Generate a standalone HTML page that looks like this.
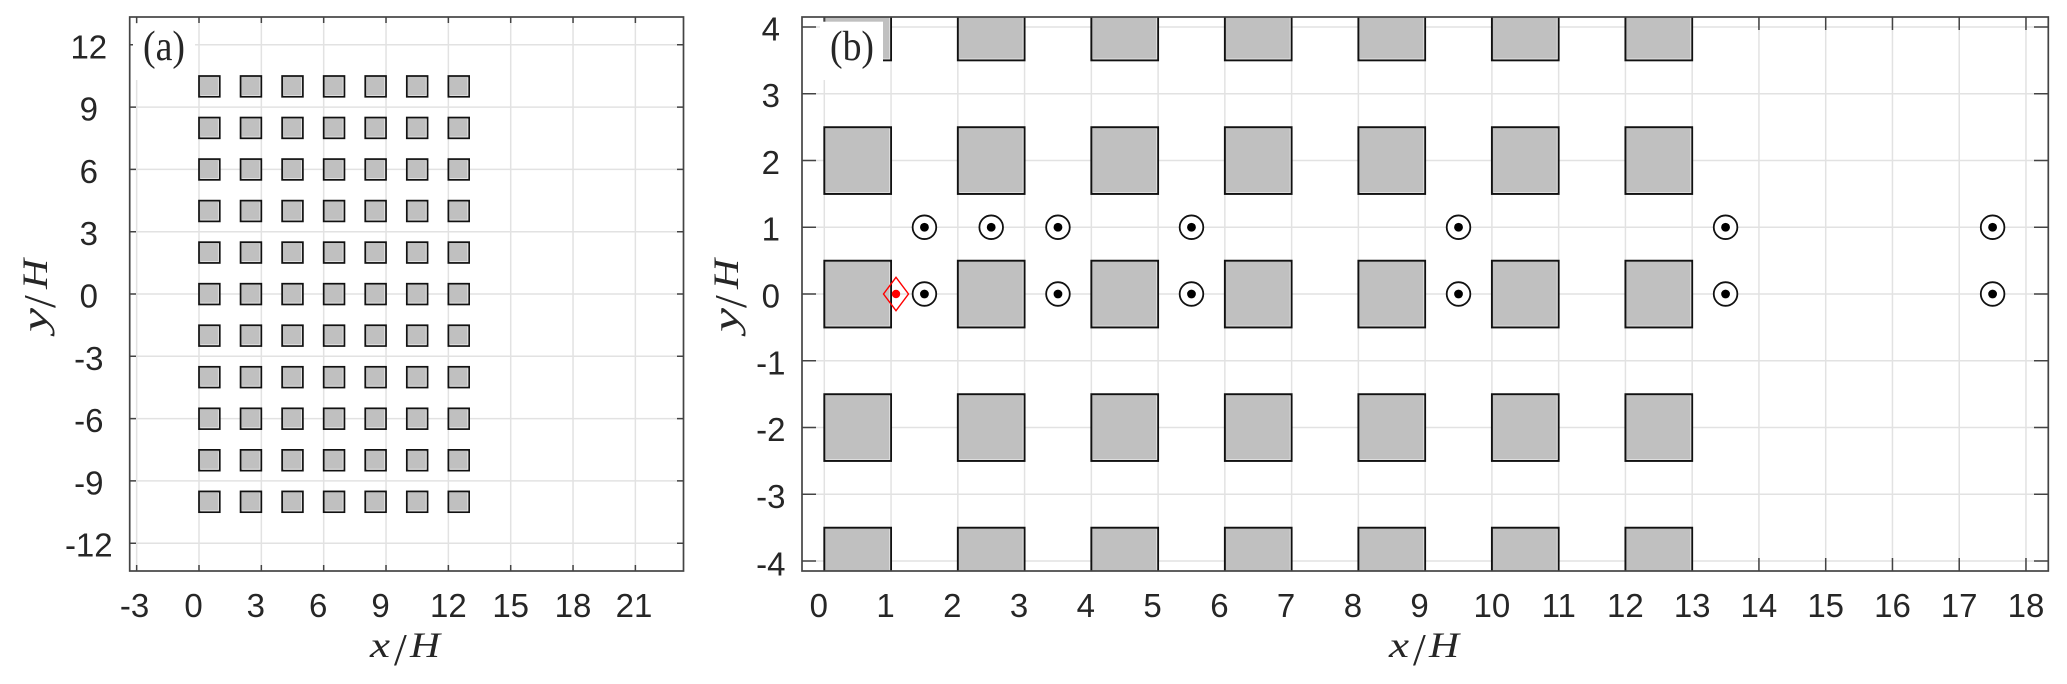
<!DOCTYPE html>
<html><head><meta charset="utf-8"><style>
html,body{margin:0;padding:0;background:#fff}
svg{display:block;filter:blur(.35px)}
.t{font-family:"Liberation Sans",Arial,sans-serif;font-size:33px;fill:#262626;text-anchor:middle}
.s{font-family:"Liberation Serif",serif;fill:#262626}
.i{font-family:"Liberation Serif",serif;font-style:italic;font-size:36px;fill:#262626}
</style></head><body>
<svg xmlns="http://www.w3.org/2000/svg" width="2067" height="684" viewBox="0 0 2067 684">
<defs>
<clipPath id="cb"><rect x="802" y="16.7" width="1246.3" height="554.3"/></clipPath>
<g id="sa"><rect x="199" y="76" width="20.78" height="20.78" fill="#c0c0c0" stroke="#111" stroke-width="1.7"/><path d="M218.4 77.6V95.4H200.6" fill="none" stroke="#e4e4e4" stroke-width=".9"/></g>
<g id="ra"><use href="#sa"/><use href="#sa" x="41.56"/><use href="#sa" x="83.12"/><use href="#sa" x="124.68"/><use href="#sa" x="166.24"/><use href="#sa" x="207.8"/><use href="#sa" x="249.36"/></g>
<g id="sb"><rect x="824.3" y="0" width="66.76" height="66.76" fill="#c0c0c0" stroke="#111" stroke-width="1.9"/><path d="M889.6 1.5V65.3H826" fill="none" stroke="#dedede" stroke-width="1"/></g>
<g id="rb"><use href="#sb"/><use href="#sb" x="133.52"/><use href="#sb" x="267.04"/><use href="#sb" x="400.56"/><use href="#sb" x="534.08"/><use href="#sb" x="667.6"/><use href="#sb" x="801.12"/></g>
<g id="c"><circle r="11.8" fill="#fff" stroke="#111" stroke-width="1.8"/><circle r="4.4" fill="#000"/></g>
</defs>
<rect width="2067" height="684" fill="#fff"/>

<!-- panel a grid -->
<path fill="none" stroke="#e2e2e2" stroke-width="1.5" d="M136.66 17V571M199 17V571M261.34 17V571M323.68 17V571M386.02 17V571M448.36 17V571M510.7 17V571M573.04 17V571M635.38 17V571M130 44.76H683M130 107.07H683M130 169.38H683M130 231.69H683M130 294H683M130 356.31H683M130 418.62H683M130 480.93H683M130 543.24H683"/>
<!-- panel a squares -->
<use href="#ra"/><use href="#ra" y="41.54"/><use href="#ra" y="83.08"/><use href="#ra" y="124.62"/><use href="#ra" y="166.16"/><use href="#ra" y="207.7"/><use href="#ra" y="249.24"/><use href="#ra" y="290.78"/><use href="#ra" y="332.32"/><use href="#ra" y="373.86"/><use href="#ra" y="415.4"/>
<!-- panel a ticks/axes -->
<path fill="none" stroke="#444" stroke-width="1.5" d="M136.66 17v6M199 17v6M261.34 17v6M323.68 17v6M386.02 17v6M448.36 17v6M510.7 17v6M573.04 17v6M635.38 17v6M136.66 571v-6M199 571v-6M261.34 571v-6M323.68 571v-6M386.02 571v-6M448.36 571v-6M510.7 571v-6M573.04 571v-6M635.38 571v-6M130 44.76h6M130 107.07h6M130 169.38h6M130 231.69h6M130 294h6M130 356.31h6M130 418.62h6M130 480.93h6M130 543.24h6M683 44.76h-6M683 107.07h-6M683 169.38h-6M683 231.69h-6M683 294h-6M683 356.31h-6M683 418.62h-6M683 480.93h-6M683 543.24h-6"/>
<rect x="129.7" y="17" width="553.8" height="554" fill="none" stroke="#444" stroke-width="1.7"/>
<rect x="133" y="24" width="62" height="56" fill="#fff"/>
<text class="s" x="143" y="60" font-size="42" textLength="42" lengthAdjust="spacingAndGlyphs">(a)</text>

<!-- panel a labels -->
<text class="t" x="134.5" y="617">-3</text><text class="t" x="193.5" y="617">0</text><text class="t" x="255.8" y="617">3</text><text class="t" x="318.2" y="617">6</text><text class="t" x="380.5" y="617">9</text><text class="t" x="448.4" y="617">12</text><text class="t" x="510.7" y="617">15</text><text class="t" x="573" y="617">18</text><text class="t" x="634" y="617">21</text>
<text class="t" x="88.8" y="58.3">12</text><text class="t" x="88.8" y="120.6">9</text><text class="t" x="88.8" y="182.9">6</text><text class="t" x="88.8" y="245.2">3</text><text class="t" x="88.8" y="307.5">0</text><text class="t" x="88.8" y="369.8">-3</text><text class="t" x="88.8" y="432.1">-6</text><text class="t" x="88.8" y="494.4">-9</text><text class="t" x="88.8" y="556.7">-12</text>
<text class="i" x="370" y="657" textLength="20" lengthAdjust="spacingAndGlyphs">x</text><text class="s" x="394" y="665" font-size="46">/</text><text class="i" x="410" y="657" textLength="30" lengthAdjust="spacingAndGlyphs">H</text>
<g transform="translate(47,332) rotate(-90)"><text class="i" x="0" y="0" textLength="24" lengthAdjust="spacingAndGlyphs">y</text><text class="s" x="24" y="8" font-size="46">/</text><text class="i" x="43" y="0" textLength="30" lengthAdjust="spacingAndGlyphs">H</text></g>

<!-- panel b grid -->
<path fill="none" stroke="#e2e2e2" stroke-width="1.5" d="M824.3 17V571M891.06 17V571M957.82 17V571M1024.58 17V571M1091.34 17V571M1158.1 17V571M1224.86 17V571M1291.62 17V571M1358.38 17V571M1425.14 17V571M1491.9 17V571M1558.66 17V571M1625.42 17V571M1692.18 17V571M1758.94 17V571M1825.7 17V571M1892.46 17V571M1959.22 17V571M2025.98 17V571M802 26.96H2048M802 93.72H2048M802 160.48H2048M802 227.24H2048M802 294H2048M802 360.76H2048M802 427.52H2048M802 494.28H2048M802 561.04H2048"/>
<!-- panel b squares -->
<g clip-path="url(#cb)"><use href="#rb" y="-6.4"/><use href="#rb" y="127.2"/><use href="#rb" y="260.7"/><use href="#rb" y="394.2"/><use href="#rb" y="527.7"/></g>
<!-- panel b ticks/axes -->
<path fill="none" stroke="#444" stroke-width="1.5" d="M824.3 17v13M1758.94 17v13M1825.7 17v13M1892.46 17v13M1959.22 17v13M2025.98 17v13M1758.94 571v-13M1825.7 571v-13M1892.46 571v-13M1959.22 571v-13M2025.98 571v-13M802 26.96h14M802 93.72h14M802 160.48h14M802 227.24h14M802 294h14M802 360.76h14M802 427.52h14M802 494.28h14M802 561.04h14M2048 26.96h-14M2048 93.72h-14M2048 160.48h-14M2048 227.24h-14M2048 294h-14M2048 360.76h-14M2048 427.52h-14M2048 494.28h-14M2048 561.04h-14"/>
<rect x="802" y="17" width="1246.3" height="554" fill="none" stroke="#444" stroke-width="1.7"/>
<rect x="820" y="21.7" width="63" height="58.3" fill="#fff"/>
<text class="s" x="830" y="60" font-size="42" textLength="44" lengthAdjust="spacingAndGlyphs">(b)</text>
<!-- markers -->
<use href="#c" x="924.44" y="227.24"/><use href="#c" x="991.2" y="227.24"/><use href="#c" x="1057.96" y="227.24"/><use href="#c" x="1191.48" y="227.24"/><use href="#c" x="1458.52" y="227.24"/><use href="#c" x="1725.56" y="227.24"/><use href="#c" x="1992.6" y="227.24"/>
<use href="#c" x="924.44" y="294"/><use href="#c" x="1057.96" y="294"/><use href="#c" x="1191.48" y="294"/><use href="#c" x="1458.52" y="294"/><use href="#c" x="1725.56" y="294"/><use href="#c" x="1992.6" y="294"/>
<path d="M896 277.3L908.5 294L896 310.7L883.5 294Z" fill="none" stroke="#f00" stroke-width="1.4"/><circle cx="896" cy="294" r="4.2" fill="#f00"/>

<!-- panel b labels -->
<text class="t" x="818.8" y="617">0</text><text class="t" x="885.5" y="617">1</text><text class="t" x="952.3" y="617">2</text><text class="t" x="1019" y="617">3</text><text class="t" x="1085.8" y="617">4</text><text class="t" x="1152.6" y="617">5</text><text class="t" x="1219.4" y="617">6</text><text class="t" x="1286.1" y="617">7</text><text class="t" x="1352.9" y="617">8</text><text class="t" x="1419.6" y="617">9</text><text class="t" x="1491.9" y="617">10</text><text class="t" x="1558.7" y="617">11</text><text class="t" x="1625.4" y="617">12</text><text class="t" x="1692.2" y="617">13</text><text class="t" x="1758.9" y="617">14</text><text class="t" x="1825.7" y="617">15</text><text class="t" x="1892.5" y="617">16</text><text class="t" x="1959.2" y="617">17</text><text class="t" x="2026" y="617">18</text>
<text class="t" x="770.8" y="40.5">4</text><text class="t" x="770.8" y="107.2">3</text><text class="t" x="770.8" y="174">2</text><text class="t" x="770.8" y="240.7">1</text><text class="t" x="770.8" y="307.5">0</text><text class="t" x="770.8" y="374.3">-1</text><text class="t" x="770.8" y="441">-2</text><text class="t" x="770.8" y="507.8">-3</text><text class="t" x="770.8" y="575.5">-4</text>
<text class="i" x="1389" y="657" textLength="20" lengthAdjust="spacingAndGlyphs">x</text><text class="s" x="1413" y="665" font-size="46">/</text><text class="i" x="1429" y="657" textLength="30" lengthAdjust="spacingAndGlyphs">H</text>
<g transform="translate(738,332) rotate(-90)"><text class="i" x="0" y="0" textLength="24" lengthAdjust="spacingAndGlyphs">y</text><text class="s" x="24" y="8" font-size="46">/</text><text class="i" x="43" y="0" textLength="30" lengthAdjust="spacingAndGlyphs">H</text></g>
</svg>
</body></html>
